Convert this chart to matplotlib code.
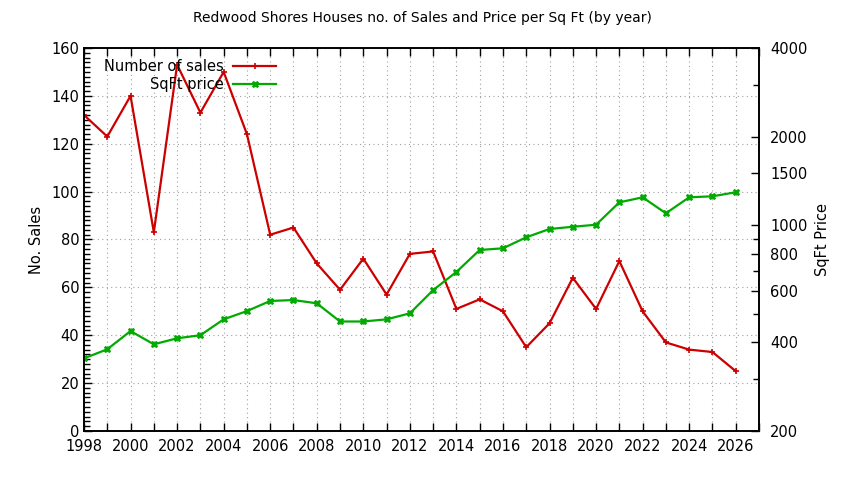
import matplotlib
matplotlib.use('Agg')
import matplotlib.pyplot as plt
from matplotlib.ticker import MultipleLocator, FixedLocator, FixedFormatter, NullFormatter

years = list(range(1998, 2027))
sales = [132, 123, 140, 83, 153, 133, 150, 124, 82, 85, 70, 59, 72, 57, 74, 75,
         51, 55, 50, 35, 45, 64, 51, 71, 50, 37, 34, 33, 25]
sqft_price = [353, 379, 437, 394, 413, 423, 479, 511, 553, 557, 543, 471, 471, 479,
              502, 602, 694, 824, 835, 910, 971, 988, 1004, 1196, 1244, 1098, 1244,
              1254, 1294]
price_ticks = [200, 400, 600, 800, 1000, 1500, 2000, 4000]
price_minor = [300, 500, 700, 900, 3000]

plt.rcParams['font.family'] = 'DejaVu Sans'
fig = plt.figure(figsize=(8.44, 4.8), dpi=100)
ax = fig.add_axes([84 / 844, 49 / 480, 675 / 844, 383 / 480])
ax2 = ax.twinx()

# gridlines: every year on x, every 20 on the left axis
ax.grid(True, which='both', axis='x', color='#a0a0a0', linestyle=(0, (1, 3)), linewidth=0.8)
ax.grid(True, which='major', axis='y', color='#a0a0a0', linestyle=(0, (1, 3)), linewidth=0.8)
ax.set_axisbelow(True)

l1, = ax.plot(years, sales, color='#cc0000', linewidth=1.6, marker='+', markersize=4,
              markeredgewidth=1.2, label='Number of sales')
l2, = ax2.plot(years, sqft_price, color='#00aa00', linewidth=1.6, marker='X', markersize=4.5,
               markeredgewidth=0.6, label='SqFt price')

ax.set_xlim(1998, 2027)
ax.set_ylim(0, 160)
ax.xaxis.set_major_locator(MultipleLocator(2))
ax.xaxis.set_minor_locator(MultipleLocator(1))
ax.yaxis.set_major_locator(MultipleLocator(20))
ax.yaxis.set_minor_locator(MultipleLocator(2))
ax.tick_params(which='both', direction='in', top=True, right=False, labelsize=10.5)
ax.tick_params(which='major', length=6, width=1)
ax.tick_params(which='minor', length=4, width=1)
ax.tick_params(axis='x', which='minor', length=6)
ax.tick_params(axis='x', pad=6)

ax2.set_yscale('log')
ax2.set_ylim(200, 4000)
ax2.yaxis.set_major_locator(FixedLocator(price_ticks))
ax2.yaxis.set_major_formatter(FixedFormatter([str(t) for t in price_ticks]))
ax2.yaxis.set_minor_locator(FixedLocator(price_minor))
ax2.yaxis.set_minor_formatter(NullFormatter())
ax2.tick_params(which='both', direction='in', labelsize=10.5, pad=8)
ax2.tick_params(which='major', length=6, width=1)
ax2.tick_params(which='minor', length=4, width=1)

for a in (ax, ax2):
    for s in a.spines.values():
        s.set_linewidth(1.2)

ax.set_ylabel('No. Sales', fontsize=10.5, labelpad=5)
ax2.set_ylabel('SqFt Price', fontsize=10.5, labelpad=5)
fig.text(0.5, 0.962, 'Redwood Shores Houses no. of Sales and Price per Sq Ft (by year)',
         ha='center', va='center', fontsize=10)

ax.legend(handles=[l1, l2], loc='upper right', bbox_to_anchor=(0.285, 0.972),
          frameon=False, markerfirst=False, fontsize=10.5, handlelength=3.0,
          handletextpad=0.6, labelspacing=0.25, borderaxespad=0, borderpad=0)

fig.savefig('out.png', dpi=100)
